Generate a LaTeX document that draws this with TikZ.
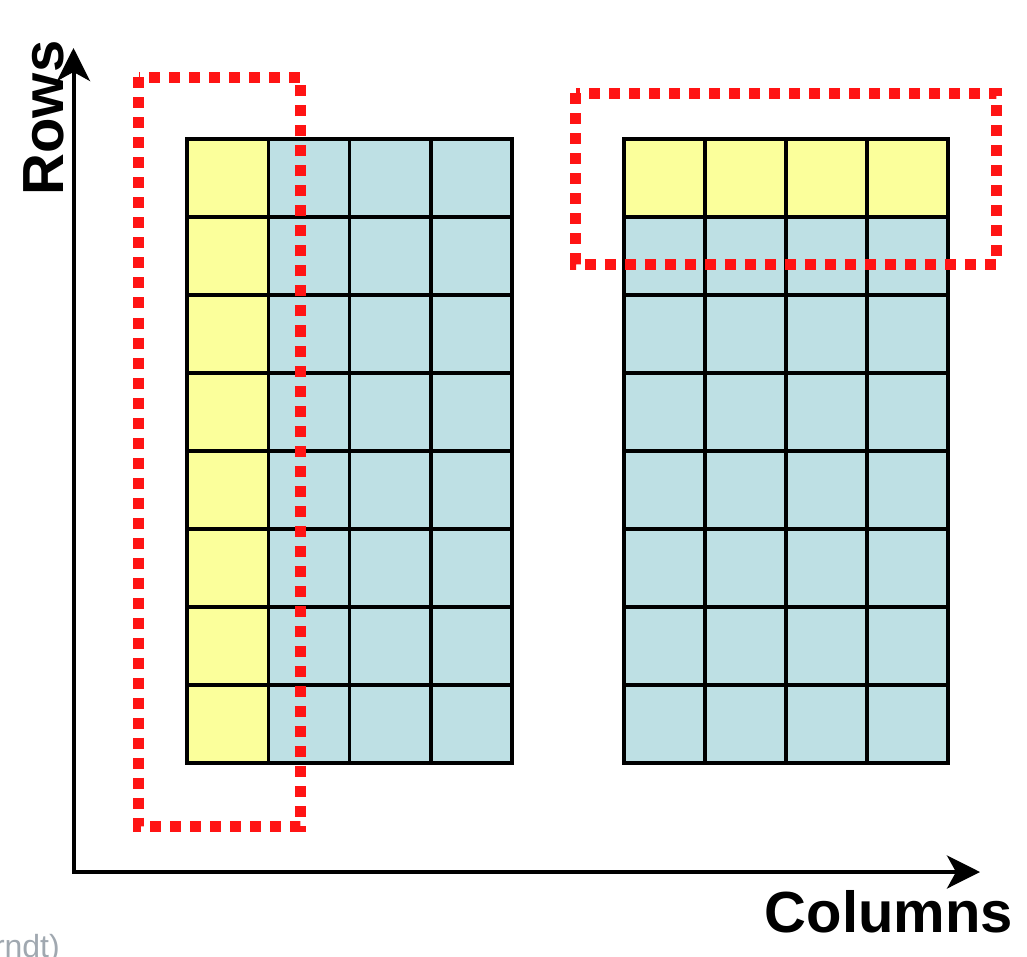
\documentclass[tikz,border=0pt]{standalone}
\usepackage{fontspec}
\setmainfont{Liberation Sans}
\usetikzlibrary{arrows.meta}
\definecolor{cellyellow}{HTML}{FBFF9B}
\definecolor{cellblue}{HTML}{BEE0E4}
\definecolor{dotred}{HTML}{FF1414}
\definecolor{notegray}{HTML}{A0A8B0}
\tikzset{
  cellstyle/.style={draw=black, line width=3.5pt},
  selbox/.style={draw=dotred, line width=11pt, dash pattern=on 11pt off 9pt, line cap=butt},
  axisline/.style={line width=4pt, line join=miter, {Stealth[length=33pt,width=33pt,inset=9pt]}-{Stealth[length=33pt,width=33pt,inset=9pt]}},
  axislabel/.style={font=\fontsize{58}{58}\selectfont\bfseries, inner sep=0pt}
}
\begin{document}
\begin{tikzpicture}[x=1pt,y=-1pt]
\useasboundingbox (0,0) rectangle (1027,957);
% left grid: first column yellow
\foreach \c in {0,...,3}{
  \foreach \r in {0,...,7}{
    \pgfmathsetmacro{\xa}{187+\c*81.25}
    \pgfmathsetmacro{\xb}{187+(\c+1)*81.25}
    \pgfmathsetmacro{\ya}{139+\r*78}
    \pgfmathsetmacro{\yb}{139+(\r+1)*78}
    \ifnum\c=0
      \path[cellstyle, fill=cellyellow] (\xa,\ya) rectangle (\xb,\yb);
    \else
      \path[cellstyle, fill=cellblue] (\xa,\ya) rectangle (\xb,\yb);
    \fi
  }
}
% right grid: first row yellow
\foreach \c in {0,...,3}{
  \foreach \r in {0,...,7}{
    \pgfmathsetmacro{\xa}{624+\c*81}
    \pgfmathsetmacro{\xb}{624+(\c+1)*81}
    \pgfmathsetmacro{\ya}{139+\r*78}
    \pgfmathsetmacro{\yb}{139+(\r+1)*78}
    \ifnum\r=0
      \path[cellstyle, fill=cellyellow] (\xa,\ya) rectangle (\xb,\yb);
    \else
      \path[cellstyle, fill=cellblue] (\xa,\ya) rectangle (\xb,\yb);
    \fi
  }
}
% selection boxes
\draw[selbox] (138.5,77.5) rectangle (300.5,826);
\draw[selbox] (575.5,93.5) rectangle (996.5,264.5);
% axes
\coordinate (origin) at (73.5,872);
\coordinate (ytip) at (73.5,48);
\coordinate (xtip) at (980,872);
\draw[axisline] (ytip) -- (origin) -- (xtip);
\node[axislabel, rotate=90, anchor=center] (rows) at (43.5,118) {Rows};
\node[axislabel, anchor=base east] (cols) at (1013,932) {Columns};
\node[font=\fontsize{32}{32}\selectfont, text=notegray, inner sep=0pt, anchor=base east] (note) at (60,957) {rndt)};
\end{tikzpicture}
\end{document}
